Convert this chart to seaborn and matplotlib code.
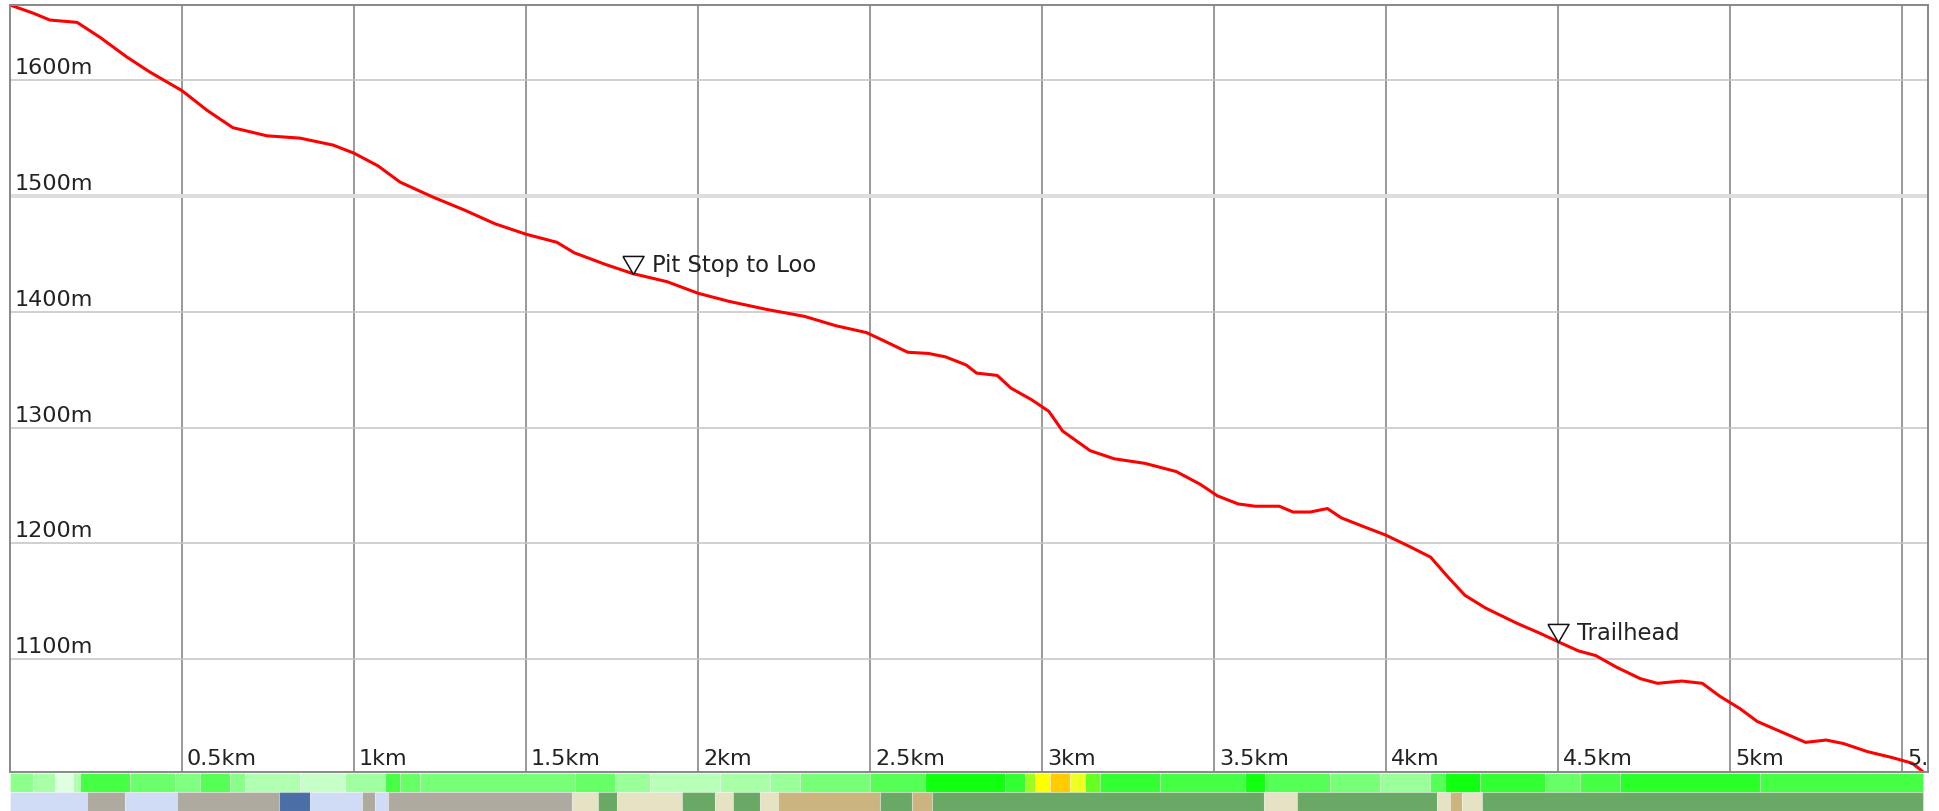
import numpy as np
import pandas as pd
import seaborn as sns
import matplotlib.pyplot as plt
from matplotlib import transforms

# Elevation profile (km along track, metres)
dist_km = [0.00, 0.067, 0.116, 0.195, 0.262, 0.340, 0.407, 0.50, 0.573, 0.648,
           0.747, 0.843, 0.939, 1.00, 1.07, 1.134, 1.23, 1.32, 1.41, 1.50, 1.59,
           1.64, 1.73, 1.81, 1.91, 2.00, 2.09, 2.20, 2.31, 2.40, 2.49, 2.54, 2.61,
           2.67, 2.72, 2.78, 2.81, 2.87, 2.91, 2.97, 3.02, 3.06, 3.14, 3.21, 3.30,
           3.39, 3.46, 3.51, 3.57, 3.62, 3.69, 3.73, 3.78, 3.83, 3.87, 3.93, 4.00,
           4.07, 4.13, 4.18, 4.23, 4.29, 4.38, 4.45, 4.50, 4.56, 4.61, 4.67, 4.74,
           4.79, 4.86, 4.92, 4.97, 5.03, 5.08, 5.15, 5.22, 5.28, 5.33, 5.40, 5.47,
           5.53, 5.56]
elev_m = [1665, 1658, 1652, 1650, 1637, 1620, 1607, 1591, 1574, 1559,
          1552, 1550, 1544, 1537, 1526, 1512, 1499, 1488, 1476, 1467, 1460,
          1451, 1441, 1433, 1426, 1416, 1409, 1402, 1396, 1388, 1382, 1375, 1365,
          1364, 1361, 1354, 1347, 1345, 1334, 1324, 1314, 1297, 1280, 1273, 1269,
          1262, 1251, 1241, 1234, 1232, 1232, 1227, 1227, 1230, 1222, 1215, 1207,
          1197, 1188, 1171, 1155, 1144, 1131, 1122, 1115, 1107, 1103, 1093, 1083,
          1079, 1081, 1079, 1068, 1057, 1046, 1037, 1028, 1030, 1027, 1020, 1015,
          1010, 1003]

# Points of interest
poi_names = ["Pit Stop to Loo", "Trailhead"]
poi_km = [1.811, 4.50]
poi_m = [1433, 1115]

x_ticks = [0.5, 1, 1.5, 2, 2.5, 3, 3.5, 4, 4.5, 5, 5.5]
x_labels = ["0.5km", "1km", "1.5km", "2km", "2.5km", "3km", "3.5km", "4km",
            "4.5km", "5km", "5.5km"]
y_ticks = [1100, 1200, 1300, 1400, 1500, 1600]
y_labels = ["1100m", "1200m", "1300m", "1400m", "1500m", "1600m"]

# Gradient strip: run edges (km) and colours
grade_edges = [0, 0.067, 0.131, 0.183, 0.203, 0.349, 0.480, 0.552, 0.640, 0.683,
               0.843, 0.974, 1.090, 1.134, 1.192, 1.642, 1.759, 1.860, 2.064, 2.209,
               2.297, 2.500, 2.660, 2.892, 2.951, 2.980, 3.023, 3.081, 3.125, 3.169,
               3.343, 3.590, 3.648, 3.837, 3.983, 4.128, 4.172, 4.273, 4.462, 4.564,
               4.680, 5.087, 5.561]
grade_colors = ["#8cff8c", "#a8ffa8", "#e0ffe0", "#b0ffb0", "#44ff44", "#6cff6c",
                "#80ff80", "#55ff55", "#88ff88", "#b0ffb0", "#c8ffc8", "#a0ffa0",
                "#44ff44", "#66ff66", "#77ff77", "#66ff66", "#99ff99", "#b8ffb8",
                "#a8ffa8", "#99ff99", "#77ff77", "#55ff55", "#11ff11", "#33ff33",
                "#99ff22", "#ffff00", "#ffcc00", "#eeff22", "#66ff22", "#33ff33",
                "#44ff44", "#11ff11", "#55ff55", "#77ff77", "#99ff99", "#55ff55",
                "#11ff11", "#33ff33", "#66ff66", "#44ff44", "#2aff2a", "#44ff44"]

# Surface strip: run edges (km) and colours
surface_edges = [0, 0.224, 0.334, 0.485, 0.782, 0.872, 1.023, 1.061, 1.099, 1.634,
                 1.709, 1.765, 1.953, 2.049, 2.102, 2.180, 2.233, 2.529, 2.622, 2.680,
                 3.645, 3.741, 4.148, 4.186, 4.221, 4.279, 5.561]
surface_colors = ["#d0dcf6", "#aeaaa0", "#d0dcf6", "#aeaaa0", "#4a6ea6", "#d0dcf6",
                  "#aeaaa0", "#d0dcf6", "#aeaaa0", "#e6e3c4", "#6aa865", "#e6e3c4",
                  "#6aa865", "#e6e3c4", "#6aa865", "#e6e3c4", "#ccb47e", "#6aa865",
                  "#ccb47e", "#6aa865", "#e6e3c4", "#6aa865", "#e6e3c4", "#ccb47e",
                  "#e6e3c4", "#6aa865"]

sns.set_style("white")
plt.rcParams['font.family'] = ['DejaVu Sans']

W, H = 1939, 811
fig = plt.figure(figsize=(W / 100, H / 100), dpi=100)
ax = fig.add_axes([10 / W, 1 - 772 / H, 1918 / W, 767 / H])
strip = fig.add_axes([10 / W, 0, 1918 / W, 39 / H])

df = pd.DataFrame({"km": dist_km, "elev": elev_m})
sns.lineplot(data=df, x="km", y="elev", ax=ax, color="#ff0000", linewidth=2.2,
             solid_joinstyle="round", solid_capstyle="round")

ax.set_xlim(0, 5.576)
ax.set_ylim(1002.4, 1665)
ax.set_xticks(x_ticks)
ax.set_yticks(y_ticks)
ax.tick_params(length=0, labelbottom=False, labelleft=False)
ax.set_xlabel("")
ax.set_ylabel("")
ax.set_axisbelow(True)
ax.xaxis.grid(True, color="#999999", linewidth=1.4)
ax.yaxis.grid(True, color="#c4c4c4", linewidth=1.1)
for gl, v in zip(ax.get_ygridlines(), y_ticks):
    if v == 1500:
        gl.set_color("#dddddd")
        gl.set_linewidth(2.8)
for sp in ax.spines.values():
    sp.set_color("#888888")
    sp.set_linewidth(1.4)

# tick labels drawn inside the plot
ytr = transforms.blended_transform_factory(ax.transAxes, ax.transData)
for v, lab in zip(y_ticks, y_labels):
    ax.text(0, v, lab, transform=transforms.offset_copy(ytr, fig=fig, x=5, y=6, units="dots"),
            ha="left", va="baseline", fontsize=16, color="#222222", clip_on=True)
xtr = transforms.blended_transform_factory(ax.transData, ax.transAxes)
for v, lab in zip(x_ticks, x_labels):
    ax.text(v, 0, lab, transform=transforms.offset_copy(xtr, fig=fig, x=5, y=7, units="dots"),
            ha="left", va="baseline", fontsize=16, color="#222222", clip_on=True)

# points of interest: open down-triangle with its tip on the track, then the name
tri = [(-1, 1.714), (1, 1.714), (0, 0), (-1, 1.714)]
ax.plot(poi_km, poi_m, linestyle="none", marker=tri, markersize=26,
        markerfacecolor="white", markeredgecolor="#111111", markeredgewidth=1.1, zorder=5)
for name, px, py in zip(poi_names, poi_km, poi_m):
    ax.text(px, py, name,
            transform=transforms.offset_copy(ax.transData, fig=fig, x=19, y=2, units="dots"),
            ha="left", va="baseline", fontsize=16.3, color="#222222", zorder=6)

# colour strips under the profile
g_left = np.array(grade_edges[:-1])
g_w = np.diff(grade_edges)
strip.bar(g_left, height=1, width=g_w, bottom=1, align="edge", color=grade_colors,
          edgecolor=(1, 1, 1, 0.3), linewidth=0.8)
s_left = np.array(surface_edges[:-1])
s_w = np.diff(surface_edges)
strip.bar(s_left, height=1, width=s_w, bottom=0, align="edge", color=surface_colors,
          edgecolor=(1, 1, 1, 0.3), linewidth=0.8)
strip.set_xlim(0, 5.576)
strip.set_ylim(0, 2.05)
strip.axis("off")

fig.savefig("out.png", dpi=100)
